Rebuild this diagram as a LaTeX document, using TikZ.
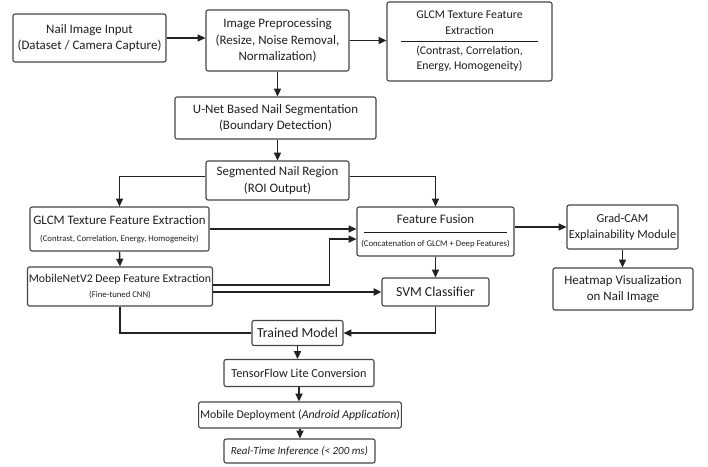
\documentclass[tikz,border=0pt]{standalone}
\usepackage{fontspec}
\setmainfont{Carlito}
\usetikzlibrary{arrows.meta}
\definecolor{lnc}{HTML}{222222}
\definecolor{bdc}{HTML}{454545}
\definecolor{txc}{HTML}{1E1E1E}
\newcommand{\sm}{\fontsize{6.2}{7.5}\selectfont}
\begin{document}
\begin{tikzpicture}[x=0.025cm,y=-0.025cm,font=\fontsize{9.2}{11.8}\selectfont,
  bx/.style={draw=bdc,line width=0.8pt,rounded corners=1.5pt,align=center,inner sep=1pt,text=txc},
  a/.style={-{Triangle[length=5.5pt,width=5pt]},line width=1pt,lnc},
  ln/.style={line width=1pt,lnc}]
\useasboundingbox (0,0) rectangle (708,466);
% --- input and preprocessing ---
\node[bx,minimum width=3.825cm,minimum height=1.2cm] (nail) at (89.5,38) {Nail Image Input\\(Dataset / Camera Capture)};
\node[bx,minimum width=3.575cm,minimum height=1.525cm] (prep) at (277.5,40.5) {Image Preprocessing\\(Resize, Noise Removal,\\Normalization)};
\node[bx,minimum width=4.125cm,minimum height=1.975cm,font=\fontsize{8.4}{10.8}\selectfont] (glcmA) at (469.5,41.5)
  {GLCM Texture Feature\\Extraction\\[-5pt]\rule{3.4cm}{0.6pt}\\[-2pt](Contrast, Correlation,\\Energy, Homogeneity)};
\node[bx,minimum width=5.025cm,minimum height=1.05cm] (unet) at (275.5,118) {U-Net Based Nail Segmentation\\(Boundary Detection)};
\node[bx,minimum width=3.575cm,minimum height=0.975cm] (seg) at (277.5,180.5) {Segmented Nail Region\\(ROI Output)};
% --- feature branches ---
\node[bx,minimum width=4.475cm,minimum height=1.1cm] (glcmB) at (119.5,229) {GLCM Texture Feature Extraction\\{\sm(Contrast, Correlation, Energy, Homogeneity)}};
\node[bx,minimum width=4.6cm,minimum height=0.975cm,font=\fontsize{8.4}{11}\selectfont] (mnet) at (120,286.5) {MobileNetV2 Deep Feature Extraction\\{\sm(Fine-tuned CNN)}};
\node[bx,minimum width=3.925cm,minimum height=1.225cm] (fuse) at (435.5,231.5)
  {Feature Fusion\\[-5pt]\rule{3.575cm}{0.6pt}\\[-2pt]{\sm(Concatenation of GLCM + Deep Features)}};
\node[bx,minimum width=2.675cm,minimum height=0.7cm,font=\fontsize{9.8}{11}\selectfont] (svm) at (435.5,292) {SVM Classifier};
\node[bx,minimum width=2.775cm,minimum height=1.1cm,font=\fontsize{8.7}{11.5}\selectfont] (grad) at (622.5,227) {Grad-CAM\\Explainability Module};
\node[bx,minimum width=3.5cm,minimum height=1.05cm] (heat) at (623,289) {Heatmap Visualization\\on Nail Image};
% --- deployment chain ---
\node[bx,minimum width=2.275cm,minimum height=0.625cm,font=\fontsize{9.8}{11}\selectfont] (trained) at (297.5,333) {Trained Model};
\node[bx,minimum width=3.75cm,minimum height=0.675cm,font=\fontsize{8.7}{10}\selectfont] (tfl) at (299,373) {TensorFlow Lite Conversion};
\node[bx,minimum width=4.85cm,minimum height=0.65cm,font=\fontsize{8.4}{10}\selectfont] (mdep) at (300,415) {Mobile Deployment (\textit{Android Application})};
\node[bx,minimum width=3.775cm,minimum height=0.6cm,font=\fontsize{7.8}{9}\selectfont\itshape] (rt) at (299.5,451) {Real-Time Inference (< 200 ms)};
% --- connectors ---
\draw[a] (nail.east) -- (prep.west |- nail.east);
\draw[a] (prep.east) -- (glcmA.west |- prep.east);
\draw[a] (prep.south) -- (prep.south |- unet.north);
\draw[a] (seg.north |- unet.south) -- (seg.north);
\draw[a] ([yshift=0.1cm]seg.west) -| (glcmB.north);
\draw[a] ([yshift=0.1cm]seg.east) -| (fuse.north);
\draw[a] (glcmB.east) -- (fuse.west |- glcmB.east);
\draw[a] ([yshift=0.04cm]mnet.east) -| ([xshift=-0.675cm,yshift=-0.19cm]fuse.west) -- ([yshift=-0.19cm]fuse.west);
\draw[a,line width=1.4pt] (mnet.east |- svm.west) -- (svm.west);
\draw[a] (glcmB.south) -- (mnet.north);
\draw[a] (fuse.south) -- (svm.north);
\draw[a] (fuse.east |- grad.west) -- (grad.west);
\draw[a] (grad.south) -- (grad.south |- heat.north);
\draw[a] (svm.south) |- (trained.east);
\draw[ln] (mnet.south) |- (trained.west);
\draw[a] (trained.south) -- (trained.south |- tfl.north);
\draw[a] (tfl.south) -- (tfl.south |- mdep.north);
\draw[a] (mdep.south) -- (mdep.south |- rt.north);
\end{tikzpicture}
\end{document}
